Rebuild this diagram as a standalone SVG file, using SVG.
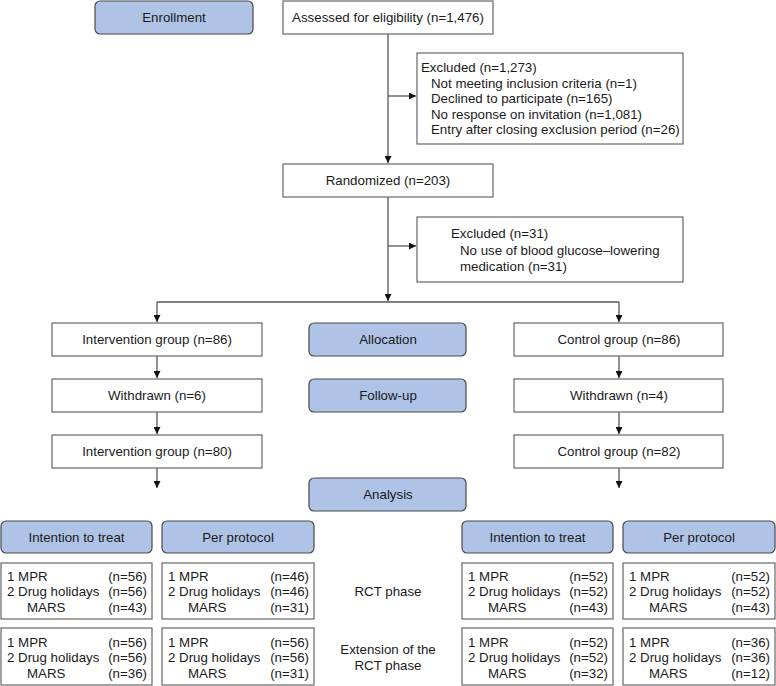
<svg xmlns="http://www.w3.org/2000/svg" width="776" height="686" viewBox="0 0 776 686">
<style>
text{font-family:"Liberation Sans",Arial,sans-serif;font-size:13.3px;fill:#1a1a1a}
.c{text-anchor:middle}
.r{text-anchor:end}
.box{fill:#fff;stroke:#666;stroke-width:1.2}
.lab{fill:#aec3e6;stroke:#4a4a4a;stroke-width:1.2}
.ln{fill:none;stroke:#555;stroke-width:1.3}
</style>
<defs>
<marker id="ah" viewBox="0 0 10 10" refX="10" refY="5" markerWidth="7" markerHeight="7" markerUnits="userSpaceOnUse" orient="auto">
<path d="M0,0 L10,5 L0,10 z" fill="#111"/>
</marker>
</defs>
<g id="connectors">
<path class="ln" d="M388,34 V163" marker-end="url(#ah)"/>
<path class="ln" d="M388,96 H416" marker-end="url(#ah)"/>
<path class="ln" d="M388,197 V301" marker-end="url(#ah)"/>
<path class="ln" d="M388,246 H416" marker-end="url(#ah)"/>
<path class="ln" d="M157,302 H619"/>
<path class="ln" d="M157,302 V322" marker-end="url(#ah)"/>
<path class="ln" d="M619,302 V322" marker-end="url(#ah)"/>
<path class="ln" d="M157,356 V378" marker-end="url(#ah)"/>
<path class="ln" d="M157,412 V434" marker-end="url(#ah)"/>
<path class="ln" d="M619,356 V378" marker-end="url(#ah)"/>
<path class="ln" d="M619,412 V434" marker-end="url(#ah)"/>
<path class="ln" d="M157,468 V488" marker-end="url(#ah)"/>
<path class="ln" d="M619,468 V488" marker-end="url(#ah)"/>
</g>
<g id="enrollment"><rect class="lab" x="95" y="1" width="158" height="33" rx="5"/><text class="c" x="174" y="22">Enrollment</text></g>
<g id="assessed"><rect class="box" x="283" y="1" width="210" height="33"/><text class="c" x="388" y="22">Assessed for eligibility (n=1,476)</text></g>
<g id="excluded1"><rect class="box" x="417" y="53" width="266" height="91"/>
<text x="421" y="72">Excluded (n=1,273)</text>
<text x="431" y="87.5">Not meeting inclusion criteria (n=1)</text>
<text x="431" y="103">Declined to participate (n=165)</text>
<text x="431" y="118.5">No response on invitation (n=1,081)</text>
<text x="431" y="134">Entry after closing exclusion period (n=26)</text></g>
<g id="randomized"><rect class="box" x="283" y="164" width="210" height="33"/><text class="c" x="388" y="185">Randomized (n=203)</text></g>
<g id="excluded2"><rect class="box" x="417" y="217" width="266" height="65"/>
<text x="451" y="238">Excluded (n=31)</text>
<text x="460" y="254.5">No use of blood glucose–lowering</text>
<text x="460" y="270.5">medication (n=31)</text></g>
<g id="int86"><rect class="box" x="52" y="323" width="210" height="33"/><text class="c" x="157" y="344">Intervention group (n=86)</text></g>
<g id="allocation"><rect class="lab" x="309" y="323" width="157" height="33" rx="5"/><text class="c" x="388" y="344">Allocation</text></g>
<g id="ctl86"><rect class="box" x="514" y="323" width="209" height="33"/><text class="c" x="619" y="344">Control group (n=86)</text></g>
<g id="wd6"><rect class="box" x="52" y="379" width="210" height="33"/><text class="c" x="157" y="400">Withdrawn (n=6)</text></g>
<g id="followup"><rect class="lab" x="309" y="379" width="157" height="33" rx="5"/><text class="c" x="388" y="400">Follow-up</text></g>
<g id="wd4"><rect class="box" x="514" y="379" width="209" height="33"/><text class="c" x="619" y="400">Withdrawn (n=4)</text></g>
<g id="int80"><rect class="box" x="52" y="435" width="210" height="33"/><text class="c" x="157" y="456">Intervention group (n=80)</text></g>
<g id="ctl82"><rect class="box" x="514" y="435" width="209" height="33"/><text class="c" x="619" y="456">Control group (n=82)</text></g>
<g id="analysis"><rect class="lab" x="309" y="478" width="157" height="33" rx="5"/><text class="c" x="388" y="499">Analysis</text></g>
<g id="itt-l"><rect class="lab" x="1" y="521" width="151" height="32" rx="5"/><text class="c" x="76.5" y="541.5">Intention to treat</text></g>
<g id="pp-l"><rect class="lab" x="162" y="521" width="152" height="32" rx="5"/><text class="c" x="238" y="541.5">Per protocol</text></g>
<g id="itt-r"><rect class="lab" x="462" y="521" width="151" height="32" rx="5"/><text class="c" x="537.5" y="541.5">Intention to treat</text></g>
<g id="pp-r"><rect class="lab" x="623" y="521" width="152" height="32" rx="5"/><text class="c" x="699" y="541.5">Per protocol</text></g>
<g id="d1"><rect class="box" x="1" y="563" width="151" height="56"/>
<text x="7" y="580.5">1 MPR</text><text x="7" y="596">2 Drug holidays</text><text x="27" y="611.5">MARS</text>
<text class="r" x="147" y="580.5">(n=56)</text><text class="r" x="147" y="596">(n=56)</text><text class="r" x="147" y="611.5">(n=43)</text></g>
<g id="d2"><rect class="box" x="162" y="563" width="152" height="56"/>
<text x="168" y="580.5">1 MPR</text><text x="168" y="596">2 Drug holidays</text><text x="188" y="611.5">MARS</text>
<text class="r" x="309" y="580.5">(n=46)</text><text class="r" x="309" y="596">(n=46)</text><text class="r" x="309" y="611.5">(n=31)</text></g>
<g id="d3"><rect class="box" x="462" y="563" width="151" height="56"/>
<text x="468" y="580.5">1 MPR</text><text x="468" y="596">2 Drug holidays</text><text x="488" y="611.5">MARS</text>
<text class="r" x="608" y="580.5">(n=52)</text><text class="r" x="608" y="596">(n=52)</text><text class="r" x="608" y="611.5">(n=43)</text></g>
<g id="d4"><rect class="box" x="623" y="563" width="152" height="56"/>
<text x="629" y="580.5">1 MPR</text><text x="629" y="596">2 Drug holidays</text><text x="649" y="611.5">MARS</text>
<text class="r" x="770" y="580.5">(n=52)</text><text class="r" x="770" y="596">(n=52)</text><text class="r" x="770" y="611.5">(n=43)</text></g>
<g id="e1"><rect class="box" x="1" y="628" width="151" height="57"/>
<text x="7" y="646.5">1 MPR</text><text x="7" y="662">2 Drug holidays</text><text x="27" y="677.5">MARS</text>
<text class="r" x="147" y="646.5">(n=56)</text><text class="r" x="147" y="662">(n=56)</text><text class="r" x="147" y="677.5">(n=36)</text></g>
<g id="e2"><rect class="box" x="162" y="628" width="152" height="57"/>
<text x="168" y="646.5">1 MPR</text><text x="168" y="662">2 Drug holidays</text><text x="188" y="677.5">MARS</text>
<text class="r" x="309" y="646.5">(n=56)</text><text class="r" x="309" y="662">(n=56)</text><text class="r" x="309" y="677.5">(n=31)</text></g>
<g id="e3"><rect class="box" x="462" y="628" width="151" height="57"/>
<text x="468" y="646.5">1 MPR</text><text x="468" y="662">2 Drug holidays</text><text x="488" y="677.5">MARS</text>
<text class="r" x="608" y="646.5">(n=52)</text><text class="r" x="608" y="662">(n=52)</text><text class="r" x="608" y="677.5">(n=32)</text></g>
<g id="e4"><rect class="box" x="623" y="628" width="152" height="57"/>
<text x="629" y="646.5">1 MPR</text><text x="629" y="662">2 Drug holidays</text><text x="649" y="677.5">MARS</text>
<text class="r" x="770" y="646.5">(n=36)</text><text class="r" x="770" y="662">(n=36)</text><text class="r" x="770" y="677.5">(n=12)</text></g>
<g id="rct"><text class="c" x="388" y="596">RCT phase</text></g>
<g id="ext"><text class="c" x="388" y="654">Extension of the</text><text class="c" x="388" y="670">RCT phase</text></g>
</svg>
